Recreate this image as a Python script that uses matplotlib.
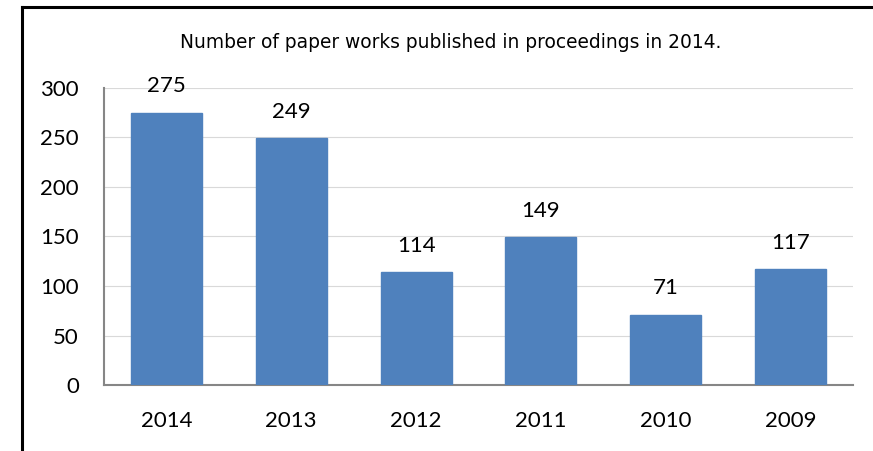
import matplotlib
matplotlib.use("Agg")
import matplotlib.pyplot as plt
from matplotlib.lines import Line2D

years = ["2014", "2013", "2012", "2011", "2010", "2009"]
papers = [275, 249, 114, 149, 71, 117]
title = "Number of paper works published in proceedings in 2014."

plt.rcParams['font.family'] = ['Lato', 'DejaVu Sans']

fig = plt.figure(figsize=(8.73, 4.51), dpi=100)
ax = fig.add_axes([104 / 873, 1 - 385 / 451, (853 - 104) / 873, (385 - 88) / 451])

x = range(len(years))
bars = ax.bar(x, papers, width=0.57, color="#4F81BD", edgecolor="#4F81BD", zorder=3)

ax.set_xlim(-0.5, len(years) - 0.5)
ax.set_ylim(0, 300)
ax.set_yticks(range(0, 301, 50))
ax.set_xticks(list(x))
ax.set_xticklabels(years)
ax.tick_params(axis="both", length=0, labelsize=16, colors="black")
ax.tick_params(axis="x", pad=18.5)
ax.tick_params(axis="y", pad=18)

ax.grid(axis="y", color="#d9d9d9", linewidth=0.8, zorder=0)
for side in ["top", "right"]:
    ax.spines[side].set_visible(False)
for side in ["left", "bottom"]:
    ax.spines[side].set_color("#868686")
    ax.spines[side].set_linewidth(1.5)

for xi, v in zip(x, papers):
    ax.annotate(str(v), (xi, v), xytext=(0, 19), textcoords="offset points",
                ha="center", va="center", fontsize=16)

fig.text(451 / 873, 1 - 42 / 451, title, ha="center", va="center", fontsize=13.4,
         family=["Liberation Sans Narrow", "DejaVu Sans"])

# cadre noir autour du graphique
fig.add_artist(Line2D([21.5 / 873, 21.5 / 873], [0, 1 - 6.5 / 451], color="black",
                      linewidth=2.2, transform=fig.transFigure))
fig.add_artist(Line2D([21.5 / 873, 1], [1 - 6.5 / 451, 1 - 6.5 / 451], color="black",
                      linewidth=2.2, transform=fig.transFigure))

fig.savefig("out.png", dpi=100)
